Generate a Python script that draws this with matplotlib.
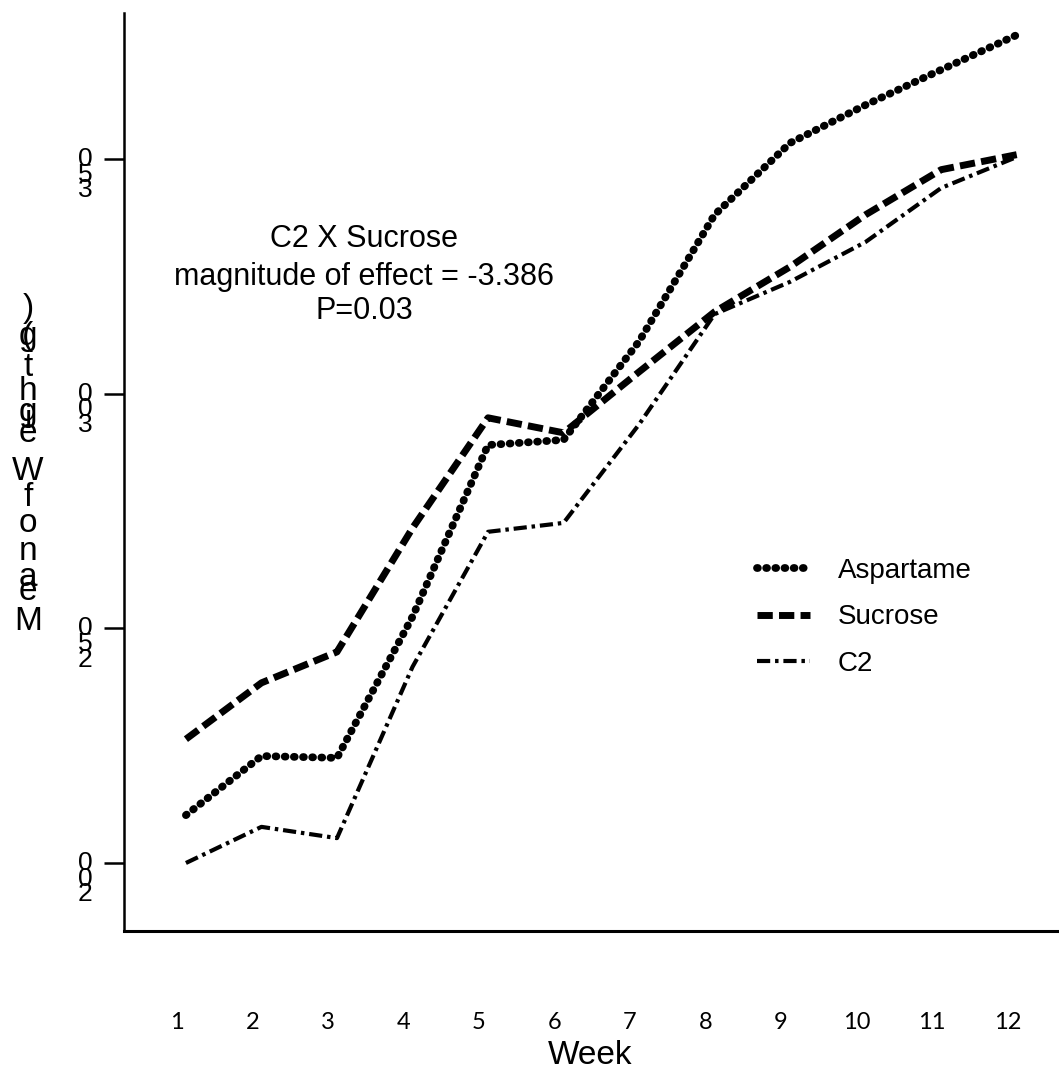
import matplotlib
matplotlib.use("Agg")
import matplotlib.pyplot as plt

plt.rcParams["lines.scale_dashes"] = False

weeks = [1, 2, 3, 4, 5, 6, 7, 8, 9, 10, 11, 12]
aspartame = [210.2, 222.8, 222.4, 252.5, 289.1, 290.2, 311.2, 338.2, 353.5, 361.6, 369.1, 376.5]
sucrose = [226.4, 238.4, 245.0, 271.4, 294.9, 291.7, 304.7, 317.5, 327.1, 338.2, 347.8, 351.0]
c2 = [200.0, 207.7, 205.3, 241.8, 270.6, 272.5, 293.5, 317.0, 323.9, 332.4, 343.9, 350.5]
yticks = [200, 250, 300, 350]
ylabel = "Mean of Weight (g)"
note_lines = ["C2 X Sucrose", "magnitude of effect = -3.386", "P=0.03"]

W, H = 1059, 1070
fig = plt.figure(figsize=(W / 100, H / 100), dpi=100)
ax = fig.add_axes([124 / W, 1 - 931 / H, (W - 124) / W, (931 - 13) / H])

ax.plot(weeks, aspartame, color="black", lw=5.6, linestyle=(0, (0.6, 6.0)),
        dash_capstyle="round", solid_joinstyle="round", label="Aspartame")
ax.plot(weeks, sucrose, color="black", lw=5.0, linestyle=(0, (11, 4.5)),
        dash_capstyle="butt", label="Sucrose")
ax.plot(weeks, c2, color="black", lw=3.0, linestyle=(0, (9.5, 3.5, 2.5, 3.5)),
        label="C2")

ax.set_xlim(0.18, 12.56)
ax.set_ylim(185.5, 381.2)

for s in ["top", "right"]:
    ax.spines[s].set_visible(False)
ax.spines["left"].set_linewidth(1.8)
ax.spines["bottom"].set_linewidth(2.2)

# x tick labels sit far below the axis, no tick marks
ax.set_xticks([w - 0.12 for w in weeks])
ax.set_xticklabels([str(w) for w in weeks], fontfamily="Lato", fontsize=17)
ax.tick_params(axis="x", length=0, pad=58)

# y ticks with stacked-character labels
ax.set_yticks(yticks)
ax.set_yticklabels([])
ax.tick_params(axis="y", length=14.4, width=1.8, direction="out")
for v in yticks:
    for i, ch in enumerate(reversed(str(v))):
        ax.annotate(ch, xy=(0, v), xycoords=("axes fraction", "data"),
                    xytext=(-28, -i * 11.2), textcoords="offset points",
                    ha="center", va="center", fontsize=19,
                    fontfamily="Liberation Sans")

# stacked y axis label
label_y = {0: 622, 1: 592, 2: 578, 3: 552, 5: 523, 6: 498, 8: 472, 9: 433,
           10: 420, 11: 412, 12: 392, 13: 367, 15: 337, 16: 337, 17: 308}
for i, ch in enumerate(ylabel):
    if ch == " ":
        continue
    fig.text(28 / W, 1 - label_y[i] / H, ch, ha="center", va="center",
             fontsize=24, fontfamily="Liberation Sans")

for txt, yp in zip(note_lines, [239, 277, 311]):
    fig.text(364 / W, 1 - yp / H, txt, ha="center", va="center",
             fontsize=22, fontfamily="Liberation Sans")

fig.text(590 / W, 1 - 1056 / H, "Week", ha="center", va="center",
         fontsize=24, fontfamily="Liberation Sans")

leg = ax.legend(loc="upper left", bbox_to_anchor=((757 - 124) / (W - 124), (931 - 558) / 918),
                frameon=False, borderpad=0, borderaxespad=0, handlelength=1.9,
                handletextpad=1.0, labelspacing=0.73,
                prop={"family": "Liberation Sans", "size": 20})

fig.savefig("out.png", dpi=100)
